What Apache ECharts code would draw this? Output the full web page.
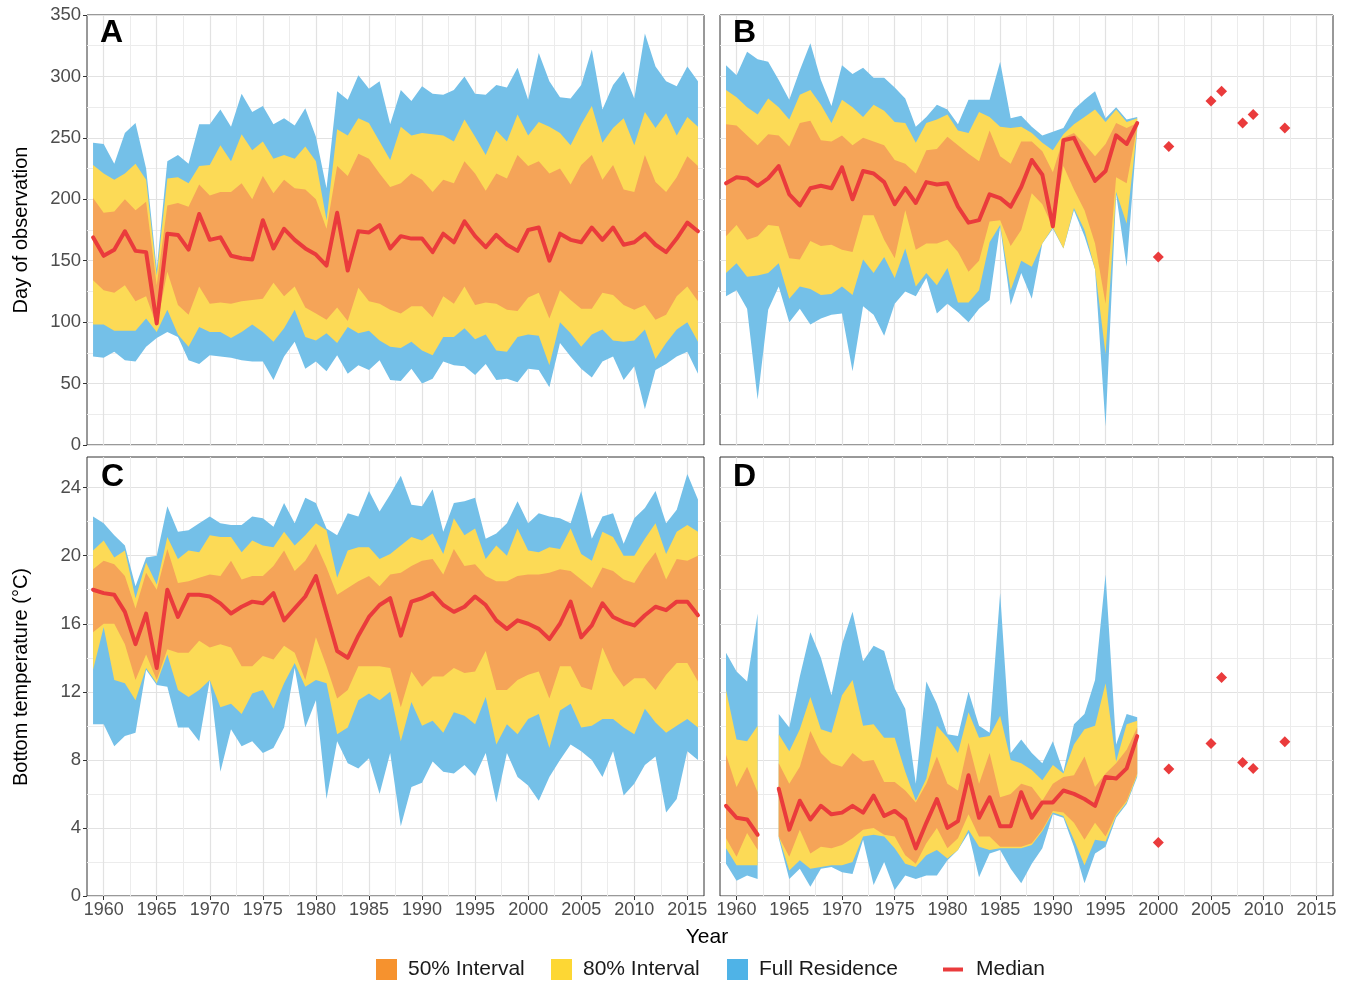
<!DOCTYPE html>
<html><head><meta charset="utf-8">
<script src="https://cdn.jsdelivr.net/npm/echarts@6/dist/echarts.min.js"></script>
<style>html,body{margin:0;padding:0;background:#fff}#c{width:1347px;height:983px}</style>
</head><body><div id="c"></div>
<script>
// ---------- data ----------
const YEARS_FULL = [1959,1960,1961,1962,1963,1964,1965,1966,1967,1968,1969,1970,1971,1972,1973,1974,1975,1976,1977,1978,1979,1980,1981,1982,1983,1984,1985,1986,1987,1988,1989,1990,1991,1992,1993,1994,1995,1996,1997,1998,1999,2000,2001,2002,2003,2004,2005,2006,2007,2008,2009,2010,2011,2012,2013,2014,2015,2016];
const YEARS_EARLY = [1959,1960,1961,1962,1963,1964,1965,1966,1967,1968,1969,1970,1971,1972,1973,1974,1975,1976,1977,1978,1979,1980,1981,1982,1983,1984,1985,1986,1987,1988,1989,1990,1991,1992,1993,1994,1995,1996,1997,1998];
const POINT_YEARS = [2000,2001,2005,2006,2008,2009,2012];

// Panel A: day of observation
const A_MAX = [246,245,229,254,262,225,143,231,236,229, 261,261,273,259,286,271,276,261,266,260, 274,251,209,288,281,301,290,296,261,289, 280,292,286,285,289,300,286,285,293,291, 307,281,319,296,283,282,293,322,273,293, 304,282,335,308,296,292,308,296];
const A_P90 = [228,221,216,221,229,216,138,217,218,213, 227,228,244,231,253,240,247,233,236,233, 243,231,183,257,252,266,262,247,232,259, 252,254,253,252,247,265,251,236,256,247, 269,252,263,259,254,244,261,276,246,258, 266,244,271,258,270,252,267,259];
const A_P75 = [201,189,190,200,191,198,130,195,197,194, 212,203,206,206,213,200,219,205,216,209, 208,200,176,227,219,237,233,221,210,213, 221,216,206,216,213,231,221,207,221,217, 236,227,231,221,225,212,228,236,216,228, 208,206,236,214,206,218,235,227];
const A_MED = [169,154,159,174,158,157,99,172,171,159, 188,167,169,154,152,151,183,160,176,167, 160,155,146,189,142,174,173,179,160,170, 168,168,157,172,165,182,170,161,171,163, 158,175,177,150,172,167,165,177,167,177, 163,165,172,163,157,168,181,174];
const A_P25 = [134,126,124,130,117,121,97,141,114,106, 129,115,116,115,117,118,119,132,121,129, 112,107,102,112,101,128,117,115,110,107, 113,113,104,121,115,129,114,116,115,110, 109,120,124,103,126,118,111,111,124,122, 114,110,114,102,106,121,129,117];
const A_P10 = [98,98,93,93,93,103,92,110,90,80, 96,92,92,87,92,98,92,84,95,110, 88,85,91,83,96,91,93,85,80,79, 84,77,73,88,88,95,86,90,77,76, 88,90,89,65,100,91,80,90,94,85, 84,85,94,70,83,94,100,84];
const A_MIN = [72,71,76,69,68,80,87,92,88,69, 66,73,72,71,69,68,68,53,72,84, 62,68,60,73,58,65,61,69,53,52, 62,50,54,68,65,64,57,66,53,54, 51,62,61,47,83,72,62,55,68,72, 53,64,29,61,66,72,76,58];

// Panel B: day of observation
const B_MAX = [309,301,320,314,312,297,281,305,327,297, 276,309,302,307,299,299,291,282,259,267, 277,273,261,281,281,281,312,266,268,259, 252,255,258,273,281,288,266,275,265,267];
const B_P90 = [289,283,275,269,282,275,265,285,289,277, 262,281,275,267,277,272,263,262,246,262, 265,269,256,254,271,267,259,258,259,254, 246,240,253,261,267,273,263,273,263,266];
const B_P75 = [261,260,252,244,253,252,243,262,264,248, 247,252,244,250,247,244,232,229,221,240, 241,251,244,237,231,256,235,229,247,247, 239,222,250,254,245,235,245,262,258,262];
const B_MED = [213,218,217,211,217,227,204,195,209,211, 209,226,200,223,221,214,196,209,197,214, 212,213,194,181,183,204,201,194,210,232, 220,178,248,250,232,215,223,252,245,262];
const B_P25 = [170,179,167,170,179,178,152,151,166,162, 163,159,157,187,187,167,152,191,159,164, 164,167,157,141,150,182,183,162,175,205, 196,177,227,208,191,164,115,218,213,259];
const B_P10 = [140,148,137,138,140,148,119,129,127,122, 123,129,122,151,140,153,136,160,129,140, 130,144,116,116,126,165,179,126,150,145, 164,177,160,193,175,143,74,206,180,258];
const B_MIN = [121,126,111,37,110,129,100,111,98,103, 106,107,60,113,106,89,115,125,121,136, 107,115,108,100,111,118,178,114,140,119, 164,176,160,191,170,143,15,204,145,256];
const B_POINTS = [153,243,280,288,262,269,258];

// Panel C: bottom temperature
const C_MAX = [22.3,21.9,21.2,20.6,18.2,19.9,20.0,22.9,21.4,21.5, 21.9,22.3,21.9,21.8,21.8,22.3,22.2,21.7,23.1,21.9, 23.4,23.1,21.6,21.2,22.5,22.3,23.8,22.6,23.6,24.7, 23.0,22.9,23.9,21.4,23.1,23.2,23.4,21.0,21.3,21.9, 23.2,21.9,22.5,22.3,22.2,21.9,23.8,21.0,22.3,22.5, 20.7,22.2,22.8,23.8,21.9,22.7,24.8,23.3];
const C_P90 = [20.3,20.9,19.9,20.3,17.5,19.6,18.3,21.1,19.8,20.3, 20.2,21.2,21.1,21.1,20.2,20.9,20.6,20.5,21.4,20.6, 21.2,21.9,21.5,18.7,20.3,20.5,20.5,19.8,20.1,20.6, 21.1,20.9,21.3,20.1,22.2,21.2,21.6,19.8,20.6,20.0, 21.6,20.3,20.2,20.5,20.4,21.6,20.1,19.7,21.4,21.1, 20.0,20.0,21.0,21.9,20.1,21.4,21.8,21.4];
const C_P75 = [19.2,19.7,19.5,18.8,16.9,19.0,18.0,20.4,18.4,18.5, 18.7,18.9,18.8,19.7,18.6,18.8,18.8,19.4,20.3,19.1, 19.7,20.7,19.3,17.7,18.1,18.5,18.8,18.2,18.9,19.0, 19.4,19.7,19.8,18.9,20.4,19.4,19.5,18.8,18.5,18.5, 18.8,18.9,18.9,19.0,19.2,19.1,18.6,18.1,19.3,19.1, 18.6,18.4,19.4,20.2,18.6,19.8,19.7,20.0];
const C_MED = [18.0,17.8,17.7,16.7,14.8,16.6,13.4,18.0,16.4,17.7, 17.7,17.6,17.2,16.6,17.0,17.3,17.2,17.8,16.2,16.9, 17.6,18.8,16.6,14.4,14.0,15.3,16.4,17.1,17.5,15.3, 17.3,17.5,17.8,17.1,16.7,17.0,17.6,17.1,16.2,15.7, 16.2,16.0,15.7,15.1,16.0,17.3,15.2,15.9,17.2,16.4, 16.1,15.9,16.5,17.0,16.8,17.3,17.3,16.5];
const C_P25 = [15.5,16.0,16.0,14.8,12.7,14.2,12.7,14.5,14.3,14.3, 15.0,14.6,14.8,14.6,13.5,13.5,14.1,13.9,14.7,14.3, 12.7,15.2,13.5,11.6,12.1,13.5,13.5,13.5,13.4,11.1, 13.2,12.3,12.9,12.9,13.4,13.1,13.2,14.4,12.1,12.1, 12.7,13.0,13.2,11.6,13.5,13.5,12.3,12.1,14.6,13.2, 12.3,12.8,12.8,12.1,13.0,13.7,13.7,12.6];
const C_P10 = [13.3,15.8,12.7,12.5,11.5,13.4,12.5,14.2,12.1,11.7, 12.1,12.7,11.1,11.3,10.7,11.9,12.1,11.0,12.5,13.7, 12.3,12.7,12.5,9.5,9.9,11.5,11.9,11.5,12.0,9.1, 11.4,10.0,10.3,9.6,10.8,10.6,10.1,11.7,8.9,10.1, 9.5,10.4,10.7,8.7,10.9,11.3,9.9,10.0,10.4,10.4, 9.9,9.5,11.0,10.2,9.6,10.0,10.4,9.9];
const C_MIN = [10.1,10.1,8.8,9.4,9.6,13.3,12.4,12.3,9.9,9.9, 9.1,12.7,7.3,9.8,8.8,9.1,8.4,8.7,9.9,13.4, 9.9,11.5,5.7,9.1,7.8,7.5,8.1,6.0,8.4,4.1, 6.4,6.65,7.9,7.3,7.2,7.7,7.05,8.4,5.5,8.4, 7.0,6.5,5.6,7.0,8.0,8.9,8.5,8.0,7.0,8.5, 5.9,6.6,7.7,8.2,4.9,5.7,8.5,8.0];

// Panel D: bottom temperature (no data in 1963)
const D_MAX = [14.3,13.2,12.6,16.6,null,10.7,9.9,12.9,15.5,14.0, 11.8,14.8,16.7,13.8,14.7,14.4,12.2,11.0,6.6,12.6, 11.3,9.5,9.4,12.0,10.0,9.6,17.8,8.4,9.2,8.4, 7.8,9.1,7.3,10.1,10.7,12.7,18.9,8.9,10.7,10.5];
const D_P90 = [12.1,9.2,9.1,10.0,null,9.5,8.5,9.8,11.7,9.8, 9.6,11.8,12.7,10.0,10.1,9.3,9.3,7.3,5.6,6.9, 10.0,9.3,8.4,10.8,9.3,9.4,10.6,8.0,7.8,7.4, 6.8,7.7,7.2,8.9,9.8,10.0,12.5,7.9,10.1,10.3];
const D_P75 = [8.3,6.4,7.6,6.1,null,7.8,6.6,7.6,9.7,8.4, 7.8,7.6,8.4,7.9,8.0,6.7,6.7,6.2,5.5,6.6, 8.2,6.6,6.2,9.0,6.6,8.4,5.8,6.0,6.6,6.4, 5.6,6.6,7.0,7.1,8.2,6.4,7.2,7.8,8.6,9.9];
const D_MED = [5.3,4.6,4.5,3.6,null,6.3,3.9,5.6,4.5,5.3, 4.8,4.9,5.3,4.9,5.9,4.7,5.0,4.5,2.8,4.3, 5.7,4.0,4.4,7.1,4.6,5.8,4.1,4.1,6.1,4.6, 5.5,5.5,6.2,6.0,5.7,5.3,7.0,6.9,7.5,9.4];
const D_P25 = [3.4,2.3,3.7,2.7,null,3.5,2.3,3.9,2.5,2.9, 2.8,3.0,3.4,3.9,4.0,3.6,3.5,2.4,1.9,3.1, 4.0,2.8,3.4,4.8,3.5,3.5,2.9,2.9,2.9,3.1, 3.9,5.0,4.9,4.3,3.3,4.3,3.5,4.8,5.6,7.2];
const D_P10 = [2.8,1.8,1.8,1.8,null,3.5,1.5,2.1,1.6,1.7, 1.8,1.8,2.0,3.5,3.6,3.5,2.8,1.9,1.7,2.4, 2.7,2.2,2.7,3.9,2.9,2.7,2.8,2.8,2.8,3.0, 3.8,4.9,4.7,3.3,1.8,3.3,3.2,4.7,5.5,7.1];
const D_MIN = [1.9,0.9,1.2,1.0,null,3.4,1.0,1.6,0.55,1.6, 1.7,1.4,1.3,3.3,0.65,2.0,0.35,1.2,1.0,1.2, 1.2,2.1,2.7,3.7,1.1,2.5,2.7,1.6,0.75,1.9, 2.8,4.8,4.6,2.9,0.75,2.5,2.9,4.6,5.4,7.0];
const D_POINTS = [3.15,7.46,8.96,12.84,7.85,7.5,9.06];

// ticks
const X_MAJOR = [1960,1965,1970,1975,1980,1985,1990,1995,2000,2005,2010,2015];
const X_MINOR = [1962.5,1967.5,1972.5,1977.5,1982.5,1987.5,1992.5,1997.5,2002.5,2007.5,2012.5];
const Y_DAY_MAJOR = [0,50,100,150,200,250,300,350];
const Y_DAY_MINOR = [25,75,125,175,225,275,325];
const Y_TEMP_MAJOR = [0,4,8,12,16,20,24];
const Y_TEMP_MINOR = [2,6,10,14,18,22];

// ---------- style ----------
const FONT = '"Liberation Sans", Arial, Helvetica, sans-serif';
const COL_BLUE = '#74C0E8', COL_YEL = '#FCDA56', COL_ORA = '#F5A458', COL_RED = '#EA3B3C';
const GRID_MAJ = '#E2E2E2', GRID_MIN = '#ECECEC';
const X_MIN = 1958.43, X_MAX = 2016.57;

const grids = [
  {left: 87, top: 15, width: 617, height: 430},
  {left: 720, top: 15, width: 613, height: 430},
  {left: 87, top: 457, width: 617, height: 439},
  {left: 720, top: 457, width: 613, height: 439}
].map(g => Object.assign(g, {show: true, borderColor: '#333333', borderWidth: 1, backgroundColor: '#ffffff'}));

function xAxesFor(g, showLabels) {
  return [
    {type: 'value', gridIndex: g, min: X_MIN, max: X_MAX,
     axisLine: {show: false},
     axisTick: {show: showLabels, customValues: X_MAJOR, length: 4, lineStyle: {color: '#333333', width: 1}},
     axisLabel: {show: showLabels, customValues: X_MAJOR, formatter: v => String(v), color: '#4D4D4D', fontSize: 18, fontFamily: FONT, margin: 5},
     splitLine: {show: true, lineStyle: {color: GRID_MAJ, width: 1.2}}},
    {type: 'value', gridIndex: g, min: X_MIN, max: X_MAX, position: 'bottom',
     axisLine: {show: false},
     axisTick: {show: false, customValues: X_MINOR},
     axisLabel: {show: false},
     splitLine: {show: true, lineStyle: {color: GRID_MIN, width: 1}}}
  ];
}
function yAxesFor(g, showLabels, ymax, major, minor) {
  return [
    {type: 'value', gridIndex: g, min: 0, max: ymax,
     axisLine: {show: false},
     axisTick: {show: showLabels, customValues: major, length: 4, lineStyle: {color: '#333333', width: 1}},
     axisLabel: {show: showLabels, customValues: major, formatter: v => String(v), color: '#4D4D4D', fontSize: 18.5, fontFamily: FONT, margin: 6},
     splitLine: {show: true, lineStyle: {color: GRID_MAJ, width: 1.2}}},
    {type: 'value', gridIndex: g, min: 0, max: ymax, position: 'left',
     axisLine: {show: false},
     axisTick: {show: false, customValues: minor},
     axisLabel: {show: false},
     splitLine: {show: true, lineStyle: {color: GRID_MIN, width: 1}}}
  ];
}

function band(name, g, years, lo, hi, color) {
  return {
    type: 'custom', name: name, xAxisIndex: 2 * g, yAxisIndex: 2 * g,
    coordinateSystem: 'cartesian2d', silent: true,
    itemStyle: {color: color},
    data: years.map((y, i) => [y, lo[i] == null ? NaN : lo[i], hi[i] == null ? NaN : hi[i]]),
    encode: {x: 0, y: [1, 2]},
    renderItem: function (params, api) {
      if (params.dataIndex !== 0) return null;
      const children = [];
      let seg = [];
      const flush = function () {
        if (seg.length > 1) {
          const top = seg.map(i => api.coord([years[i], hi[i]]));
          const bot = seg.map(i => api.coord([years[i], lo[i]])).reverse();
          children.push({type: 'polygon', shape: {points: top.concat(bot)}, style: {fill: color, stroke: null}});
        }
        seg = [];
      };
      years.forEach((y, i) => {
        if (lo[i] == null || hi[i] == null) flush(); else seg.push(i);
      });
      flush();
      return {type: 'group', children: children};
    }
  };
}
function medianLine(g, years, med) {
  return {
    type: 'line', name: 'Median', xAxisIndex: 2 * g, yAxisIndex: 2 * g,
    data: years.map((y, i) => [y, med[i] == null ? '-' : med[i]]),
    showSymbol: false, symbol: 'none', connectNulls: false, silent: true,
    lineStyle: {color: COL_RED, width: 4, join: 'round', cap: 'round'},
    itemStyle: {color: COL_RED}
  };
}
function points(g, years, vals) {
  return {
    type: 'scatter', name: 'Median', xAxisIndex: 2 * g, yAxisIndex: 2 * g,
    data: years.map((y, i) => [y, vals[i]]),
    symbol: 'diamond', symbolSize: 11, silent: true,
    itemStyle: {color: COL_RED, opacity: 1}
  };
}
function panel(g, years, mn, p10, p25, med, p75, p90, mx) {
  return [
    band('Full Residence', g, years, mn, mx, COL_BLUE),
    band('80% Interval', g, years, p10, p90, COL_YEL),
    band('50% Interval', g, years, p25, p75, COL_ORA),
    medianLine(g, years, med)
  ];
}

const series = [].concat(
  panel(0, YEARS_FULL, A_MIN, A_P10, A_P25, A_MED, A_P75, A_P90, A_MAX),
  panel(1, YEARS_EARLY, B_MIN, B_P10, B_P25, B_MED, B_P75, B_P90, B_MAX),
  [points(1, POINT_YEARS, B_POINTS)],
  panel(2, YEARS_FULL, C_MIN, C_P10, C_P25, C_MED, C_P75, C_P90, C_MAX),
  panel(3, YEARS_EARLY, D_MIN, D_P10, D_P25, D_MED, D_P75, D_P90, D_MAX),
  [points(3, POINT_YEARS, D_POINTS)]
);

function legendItem(name, left, icon, color, iconW, pad) {
  return {
    show: true, left: left, top: 959, orient: 'horizontal', selectedMode: false,
    itemWidth: iconW, itemHeight: 21, itemGap: 0, padding: 0,
    textStyle: {fontSize: 21, color: '#1A1A1A', fontFamily: FONT, padding: [0, 0, 0, pad]},
    data: [{name: name, icon: icon, itemStyle: {color: color, borderWidth: 0, opacity: 1}}]
  };
}

const option = {
  animation: false,
  backgroundColor: '#ffffff',
  textStyle: {fontFamily: FONT},
  grid: grids,
  xAxis: [].concat(xAxesFor(0, false), xAxesFor(1, false), xAxesFor(2, true), xAxesFor(3, true)),
  yAxis: [].concat(
    yAxesFor(0, true, 350, Y_DAY_MAJOR, Y_DAY_MINOR),
    yAxesFor(1, false, 350, Y_DAY_MAJOR, Y_DAY_MINOR),
    yAxesFor(2, true, 25.8, Y_TEMP_MAJOR, Y_TEMP_MINOR),
    yAxesFor(3, false, 25.8, Y_TEMP_MAJOR, Y_TEMP_MINOR)
  ),
  legend: [
    legendItem('50% Interval', 376, 'rect', '#F6922E', 21, 6),
    legendItem('80% Interval', 551, 'rect', '#FDD734', 21, 6),
    legendItem('Full Residence', 727, 'rect', '#4FB3E7', 21, 6),
    legendItem('Median', 943, 'path://M0,0H20V4H0Z', COL_RED, 20, 8)
  ],
  graphic: [
    {type: 'text', x: 100, y: 33, z: 100, style: {text: 'A', font: 'bold 32px ' + FONT, fill: '#000', align: 'left', verticalAlign: 'middle'}},
    {type: 'text', x: 733, y: 33, z: 100, style: {text: 'B', font: 'bold 32px ' + FONT, fill: '#000', align: 'left', verticalAlign: 'middle'}},
    {type: 'text', x: 101, y: 477, z: 100, style: {text: 'C', font: 'bold 32px ' + FONT, fill: '#000', align: 'left', verticalAlign: 'middle'}},
    {type: 'text', x: 733, y: 477, z: 100, style: {text: 'D', font: 'bold 32px ' + FONT, fill: '#000', align: 'left', verticalAlign: 'middle'}},
    {type: 'text', x: 21, y: 230, rotation: Math.PI / 2, style: {text: 'Day of observation', font: '20px ' + FONT, fill: '#000', align: 'center', verticalAlign: 'middle'}},
    {type: 'text', x: 21, y: 677, rotation: Math.PI / 2, style: {text: 'Bottom temperature (°C)', font: '20px ' + FONT, fill: '#000', align: 'center', verticalAlign: 'middle'}},
    {type: 'text', x: 707, y: 937, style: {text: 'Year', font: '21px ' + FONT, fill: '#000', align: 'center', verticalAlign: 'middle'}}
  ],
  series: series
};

const chart = echarts.init(document.getElementById('c'), null, {renderer: 'canvas'});
chart.setOption(option);
</script>
</body></html>
